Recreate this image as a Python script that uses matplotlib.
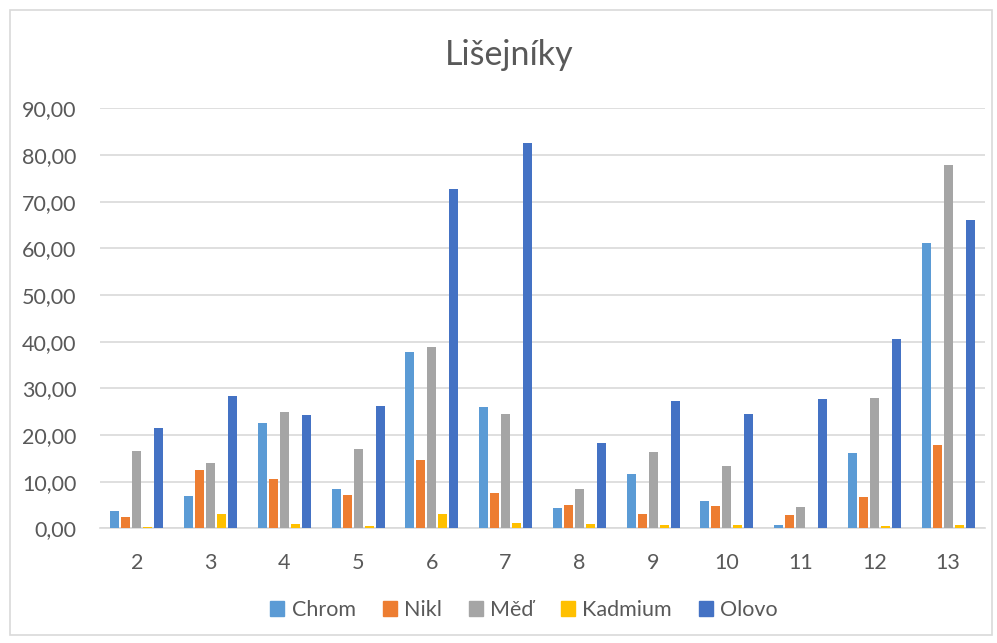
import matplotlib
matplotlib.use("Agg")
import matplotlib.pyplot as plt
import numpy as np
from matplotlib.patches import Rectangle
from matplotlib.ticker import FuncFormatter

categories = ["2", "3", "4", "5", "6", "7", "8", "9", "10", "11", "12", "13"]
chrom   = [3.8, 7.0, 22.5, 8.5, 37.8, 26.1, 4.3, 11.7, 5.9, 0.7, 16.2, 61.1]
nikl    = [2.5, 12.4, 10.6, 7.2, 14.6, 7.6, 4.9, 3.1, 4.7, 2.8, 6.6, 17.9]
med     = [16.5, 14.1, 24.9, 17.0, 38.9, 24.4, 8.5, 16.3, 13.4, 4.5, 27.9, 77.9]
kadmium = [0.3, 3.1, 1.0, 0.5, 3.0, 1.2, 0.9, 0.7, 0.7, 0.1, 0.5, 0.7]
olovo   = [21.5, 28.3, 24.3, 26.2, 72.7, 82.6, 18.3, 27.3, 24.4, 27.8, 40.6, 66.0]

series_names = ["Chrom", "Nikl", "Měď", "Kadmium", "Olovo"]
series = [chrom, nikl, med, kadmium, olovo]
colors = ["#5B9BD5", "#ED7D31", "#A5A5A5", "#FFC000", "#4472C4"]
yticks = [0, 10, 20, 30, 40, 50, 60, 70, 80, 90]

plt.rcParams['font.family'] = ['Lato', 'DejaVu Sans']
text_color = "#595959"

fig = plt.figure(figsize=(9.97, 6.43), dpi=100)
ax = fig.add_axes([100/997, 1-528.3/643, (985-100)/997, (528.3-108.3)/643])

x = np.arange(len(categories))
step = 0.149
width = 0.122
for i, (name, vals, c) in enumerate(zip(series_names, series, colors)):
    ax.bar(x + (i - 2) * step, vals, width=width, color=c, label=name, zorder=3,
           linewidth=0)

ax.set_xlim(-0.5, len(categories) - 0.5)
ax.set_ylim(0, 90)
ax.set_yticks(yticks)
ax.yaxis.set_major_formatter(FuncFormatter(lambda v, p: f"{v:.2f}".replace(".", ",")))
ax.set_xticks(x)
ax.set_xticklabels(categories)
ax.grid(axis='y', color="#D9D9D9", linewidth=1.2, zorder=0)
for s in ["top", "right", "left"]:
    ax.spines[s].set_visible(False)
ax.spines["bottom"].set_color("#D9D9D9")
ax.spines["bottom"].set_linewidth(1.2)
ax.tick_params(axis='both', length=0, labelsize=15.5, colors=text_color)
ax.tick_params(axis='y', pad=17)
ax.tick_params(axis='x', pad=18)

fig.text(509/997, 1-55/643, "Lišejníky", ha='center', va='center', fontsize=24.5, color=text_color)

handles = [Rectangle((0, 0), 1, 1, color=c) for c in colors]
leg = fig.legend(handles, series_names, loc='center', bbox_to_anchor=(524/997, 1-610/643),
                 ncol=5, frameon=False, fontsize=15.5, handlelength=0.65, handleheight=0.65,
                 handletextpad=0.35, columnspacing=1.25)
for t in leg.get_texts():
    t.set_color(text_color)

border = Rectangle((10/997, 1-635/643), (992-10)/997, (635-10)/643, transform=fig.transFigure,
                   fill=False, edgecolor="#D9D9D9", linewidth=1.2)
fig.patches.append(border)

fig.savefig("out.png", dpi=100)
